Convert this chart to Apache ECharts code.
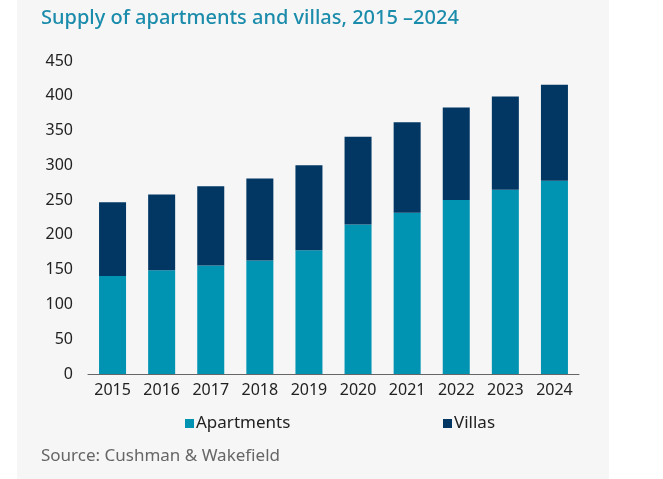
<!DOCTYPE html>
<html>
<head>
<meta charset="utf-8">
<script src="https://cdn.jsdelivr.net/npm/echarts@6/dist/echarts.min.js"></script>
<style>
html,body{margin:0;padding:0;background:#fff;}
#panel{position:absolute;left:17px;top:0;width:592px;height:479px;background:#f6f6f6;}
#chart{position:absolute;left:0;top:0;width:663px;height:479px;}
</style>
</head>
<body>
<div id="panel"></div>
<div id="chart"></div>
<script>
const categories = ['2015','2016','2017','2018','2019','2020','2021','2022','2023','2024'];
const apartments = [141,149,156,163,178,215,232,250,265,278];
const villas = [106,109,114,118,122,126,130,133,134,138];
const yTicks = {min:0, max:450, interval:50};

const FONT = 'Noto Sans';
const chart = echarts.init(document.getElementById('chart'));
chart.setOption({
  backgroundColor: 'transparent',
  animation: false,
  textStyle: {fontFamily: FONT},
  title: [{
    text: 'Supply of apartments and villas, 2015 \u20132024',
    left: 36, top: 3,
    textStyle: {color:'#1b8cab', fontSize:20, fontWeight:500, fontFamily: FONT}
  },{
    text: 'Source: Cushman & Wakefield',
    left: 36, top: 443,
    textStyle: {color:'#666', fontSize:17, fontWeight:'normal', fontFamily: FONT}
  }],
  legend: [{
    data:['Apartments'], left:180, top:410, itemWidth:9, itemHeight:9, itemGap:5,
    icon:'rect', textStyle:{color:'#222', fontSize:17, fontFamily: FONT, padding:[0,0,0,-3]}
  },{
    data:['Villas'], left:438, top:410, itemWidth:9, itemHeight:9,
    icon:'rect', textStyle:{color:'#222', fontSize:17, fontFamily: FONT, padding:[0,0,0,-3]}
  }],
  grid: {left:88, right:84, top:61, bottom:105, containLabel:false},
  xAxis: {
    type:'category', data: categories,
    axisLine:{lineStyle:{color:'#666', width:1}},
    axisTick:{show:false},
    axisLabel:{color:'#222', fontSize:16, margin:8, fontFamily: FONT}
  },
  yAxis: {
    type:'value', min:yTicks.min, max:yTicks.max, interval:yTicks.interval,
    splitLine:{show:false}, axisLine:{show:false}, axisTick:{show:false},
    axisLabel:{color:'#222', fontSize:16, margin:15, fontFamily: FONT}
  },
  series: [{
    name:'Apartments', type:'bar', stack:'s', data: apartments, barWidth:'55%',
    itemStyle:{color:'#0093b2'}
  },{
    name:'Villas', type:'bar', stack:'s', data: villas, barWidth:'55%',
    itemStyle:{color:'#023764'}
  }]
});
</script>
</body>
</html>
